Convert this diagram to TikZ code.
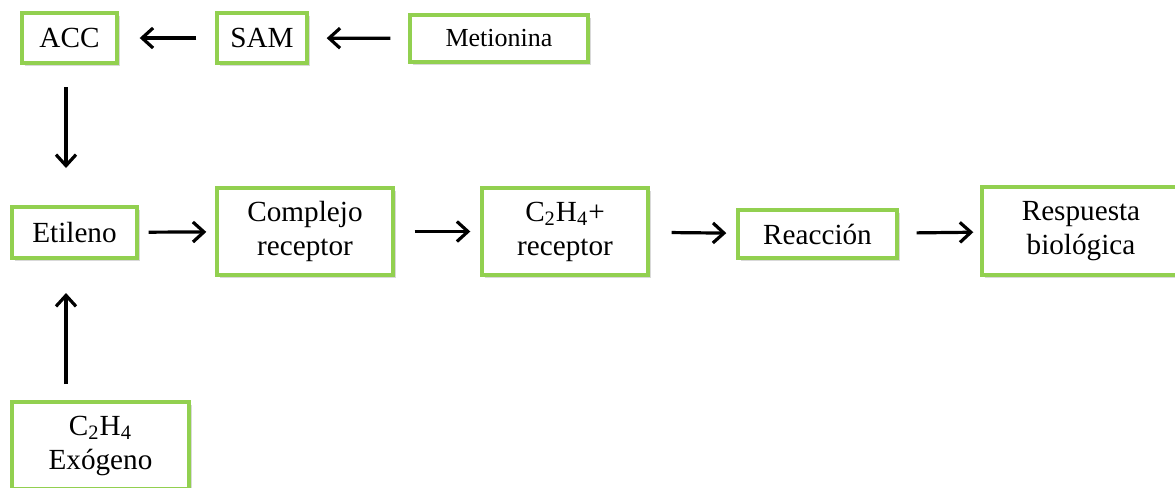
\documentclass[tikz,border=0pt]{standalone}
\usepackage{fontspec}
\setmainfont{Liberation Serif}
\usepackage{tikz}
\usetikzlibrary{arrows.meta,shadows}
\definecolor{leafgreen}{RGB}{146,208,80}
\tikzstyle{compound}=[rectangle,draw=leafgreen,line width=1.7pt,fill=white,align=center,inner sep=0pt,
  font=\fontsize{14.6}{17}\selectfont,
  drop shadow={shadow xshift=1.3pt,shadow yshift=-1.3pt,opacity=0.3}]
\tikzstyle{flow}=[-{Straight Barb[length=5.5pt,width=10pt]},line width=1.6pt,black]

\begin{document}
\begin{tikzpicture}[x=0.5pt,y=-0.5pt]
                    \useasboundingbox (0,0) rectangle (1175,488);

                    \node (acc) at (69.5,38) [compound,minimum width=47.5pt,minimum height=25pt] {ACC};
                    \node (sam) at (262,38) [compound,minimum width=45pt,minimum height=25pt] {SAM};
                    \node (met) at (499,38.5) [compound,minimum width=89pt,minimum height=23.5pt,font=\fontsize{13}{15}\selectfont] {Metionina};
                    \node (eti) at (74.5,232.5) [compound,minimum width=62.5pt,minimum height=25.5pt] {Etileno};
                    \node (comp) at (305,231.5) [compound,minimum width=88pt,minimum height=43.5pt] {Complejo\\receptor};
                    \node (cr) at (565,231.5) [compound,minimum width=83pt,minimum height=43.5pt] {C\textsubscript{2}H\textsubscript{4}+\\receptor};
                    \node (reac) at (817.5,234) [compound,minimum width=79.5pt,minimum height=24pt] {Reacción};
                    \node (resp) at (1081,231) [compound,minimum width=99pt,minimum height=44pt] {Respuesta\\biológica};
                    \node (exo) at (100.5,445.5) [compound,minimum width=88.5pt,minimum height=43.5pt] {C\textsubscript{2}H\textsubscript{4}\\Exógeno};

                    \coordinate (down1) at (66,87);
                    \coordinate (down2) at (66,168);
                    \coordinate (up1) at (66,384);
                    \coordinate (up2) at (66,293);

                    \draw [flow,shorten <=9pt,shorten >=9pt] (met) -- (sam);
                    \draw [flow,shorten <=9.5pt,shorten >=10.5pt] (sam) -- (acc);
                    \draw [flow] (down1) -- (down2);
                    \draw [flow] (up1) -- (up2);
                    \draw [flow,shorten <=5pt,shorten >=4.5pt] (eti) -- (comp);
                    \draw [flow,shorten <=10pt,shorten >=5pt] (comp) -- (cr);
                    \draw [flow,shorten <=11pt,shorten >=5pt] (cr) -- (reac);
                    \draw [flow,shorten <=9pt,shorten >=3.5pt] (reac) -- (resp);
                \end{tikzpicture}
\end{document}
